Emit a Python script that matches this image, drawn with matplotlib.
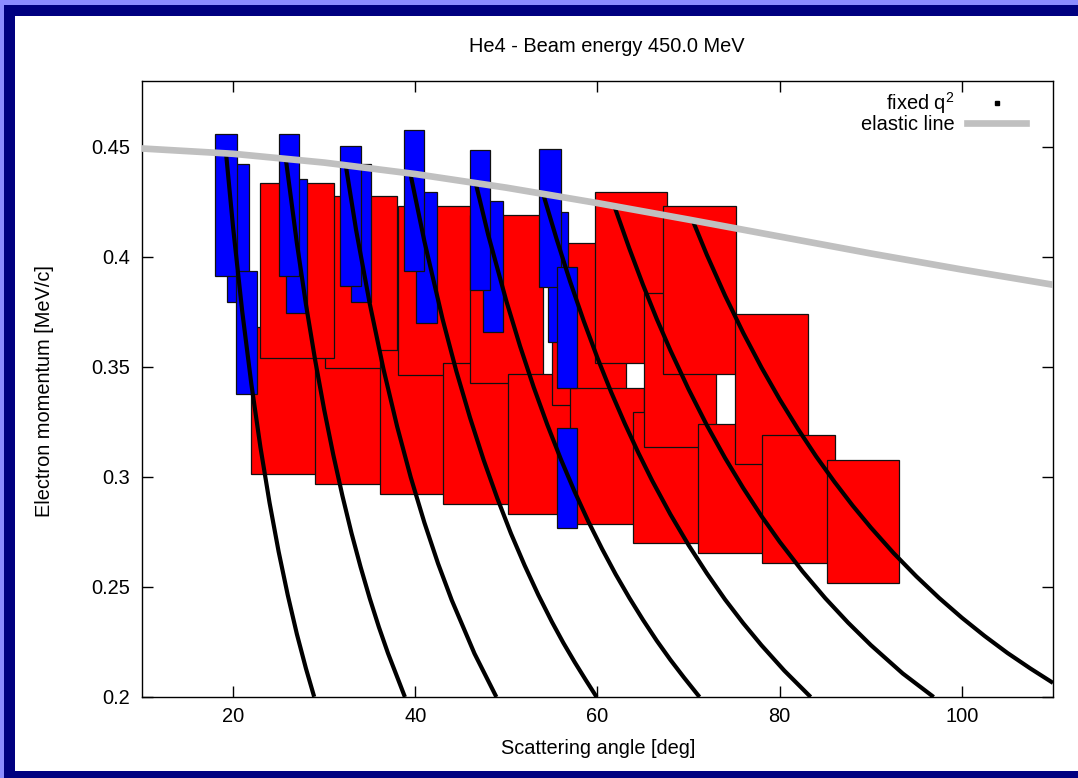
import matplotlib
matplotlib.use("Agg")
import matplotlib.pyplot as plt
from matplotlib.patches import Rectangle
from matplotlib.lines import Line2D

plt.rcParams['font.family'] = ['Liberation Sans', 'DejaVu Sans']
plt.rcParams['mathtext.fontset'] = 'custom'
plt.rcParams['mathtext.rm'] = 'Liberation Sans'
plt.rcParams['mathtext.it'] = 'Liberation Sans:italic'

# Wide-acceptance spectrometer settings (red), in drawing order
red_theta_lo = [21.96, 28.99, 30.09, 22.95, 36.09, 38.10, 43.07, 46.00, 50.14, 54.97,
                59.73, 56.98, 63.93, 65.14, 67.16, 71.07, 75.09, 78.02, 85.16]
red_theta_hi = [29.98, 37.00, 38.00, 31.04, 44.11, 46.11, 51.09, 54.05, 58.16, 63.10,
                67.60, 65.10, 71.94, 73.01, 75.17, 79.08, 83.07, 86.07, 93.06]
red_p_lo = [0.3013, 0.2968, 0.3496, 0.3542, 0.2922, 0.3463, 0.2876, 0.3425, 0.2830, 0.3325,
            0.3516, 0.2786, 0.2698, 0.3137, 0.3466, 0.2656, 0.3059, 0.2607, 0.2517]
red_p_hi = [0.3680, 0.3625, 0.4275, 0.4335, 0.3577, 0.4229, 0.3516, 0.4188, 0.3466, 0.4064,
            0.4296, 0.3405, 0.3294, 0.3834, 0.4229, 0.3240, 0.3739, 0.3189, 0.3077]

# Narrow-acceptance spectrometer settings (blue), in drawing order
blue_theta_lo = [19.30, 18.01, 20.29, 25.84, 25.01, 32.91, 31.77, 40.04, 38.73,
                 47.40, 46.00, 54.53, 53.58, 55.52, 55.52]
blue_theta_hi = [21.71, 20.46, 22.66, 28.14, 27.23, 35.14, 34.04, 42.38, 40.95,
                 49.66, 48.23, 56.73, 55.96, 57.72, 57.72]
blue_p_lo = [0.3796, 0.3914, 0.3377, 0.3745, 0.3914, 0.3796, 0.3869, 0.3699, 0.3936,
             0.3660, 0.3849, 0.3614, 0.3864, 0.3405, 0.2769]
blue_p_hi = [0.4420, 0.4557, 0.3936, 0.4353, 0.4557, 0.4420, 0.4505, 0.4294, 0.4575,
             0.4254, 0.4484, 0.4203, 0.4491, 0.3953, 0.3221]

# Curves of constant momentum transfer
q2_theta = [
    [19.25, 20, 21, 22, 23, 24, 25, 26, 27, 28, 28.9],
    [25.8, 27, 28, 29, 30, 31, 32, 33, 34, 35, 36, 37, 38.86],
    [32.35, 33.5, 35, 36.5, 38, 39.5, 41, 42.5, 44, 46.5, 48.9],
    [39.45, 41, 43, 44.5, 46, 47.5, 49, 50.5, 52, 53.5, 55, 56.25, 57.5, 58.7, 59.9],
    [46.6, 48, 50, 51.5, 53, 54.5, 56, 57.5, 59, 60.5, 62, 63.5, 65, 66.5, 68, 69.5, 71.2],
    [54.0, 55.5, 57, 58.5, 60, 61.5, 63, 64.5, 66, 68, 70, 72, 74, 76, 78, 80.5, 83.4],
    [61.85, 63.5, 65, 66.5, 68, 70, 72, 74, 76, 78, 80, 82.5, 85, 87.5, 90, 93.5, 96.9],
    [70.45, 72, 74, 76, 78, 80, 82, 84, 86, 88, 90, 92.5, 95, 97.5, 100, 102.5, 105, 107.5, 110],
]
q2_p = [
    [0.446, 0.4133, 0.3752, 0.3423, 0.3135, 0.2883, 0.2660, 0.2463, 0.2286, 0.2129, 0.2001],
    [0.444, 0.4062, 0.3783, 0.3532, 0.3305, 0.3100, 0.2914, 0.2744, 0.2590, 0.2448, 0.2318,
     0.2199, 0.2000],
    [0.442, 0.4122, 0.3787, 0.3491, 0.3230, 0.2998, 0.2792, 0.2606, 0.2440, 0.2197, 0.2000],
    [0.438, 0.4070, 0.3716, 0.3481, 0.3270, 0.3077, 0.2903, 0.2743, 0.2598, 0.2464, 0.2341,
     0.2246, 0.2158, 0.2078, 0.2000],
    [0.434, 0.4100, 0.3798, 0.3594, 0.3407, 0.3236, 0.3078, 0.2932, 0.2797, 0.2673, 0.2557,
     0.2450, 0.2350, 0.2256, 0.2169, 0.2088, 0.2000],
    [0.429, 0.4082, 0.3887, 0.3707, 0.3540, 0.3385, 0.3242, 0.3108, 0.2983, 0.2830, 0.2690,
     0.2562, 0.2443, 0.2335, 0.2235, 0.2120, 0.2000],
    [0.423, 0.4037, 0.3872, 0.3718, 0.3575, 0.3398, 0.3235, 0.3086, 0.2949, 0.2822, 0.2705,
     0.2571, 0.2449, 0.2338, 0.2236, 0.2107, 0.2000],
    [0.4165, 0.4009, 0.3824, 0.3654, 0.3497, 0.3352, 0.3218, 0.3093, 0.2978, 0.2870, 0.2770,
     0.2654, 0.2548, 0.2450, 0.2360, 0.2277, 0.2200, 0.2130, 0.2064],
]

# Elastic scattering line
elastic_theta = [10, 20, 30, 40, 50, 60, 70, 80, 90, 100, 110]
elastic_p = [0.4492, 0.4468, 0.4428, 0.4376, 0.4314, 0.4244, 0.4169, 0.4092, 0.4015, 0.3942, 0.3873]

x_ticks = [20, 40, 60, 80, 100]
y_ticks = [0.2, 0.25, 0.3, 0.35, 0.4, 0.45]
y_ticklabels = ['0.2', '0.25', '0.3', '0.35', '0.4', '0.45']

W, H = 1078, 778
FS = 14.4


def fx(px):
    return px / W


def fy(py):
    return 1 - py / H


fig = plt.figure(figsize=(W / 100, H / 100), dpi=100)
fig.patch.set_facecolor('#8c8cff')
fig.add_artist(Rectangle((fx(4), 0), 1, fy(5), transform=fig.transFigure,
                         facecolor='#000080', edgecolor='none', zorder=-10))
fig.add_artist(Rectangle((fx(15), fy(771)), 1, fy(16) - fy(771), transform=fig.transFigure,
                         facecolor='white', edgecolor='none', zorder=-9))

ax = fig.add_axes([fx(142), fy(697), fx(1053) - fx(142), fy(80.7) - fy(697)])
ax.set_xlim(10, 110)
ax.set_ylim(0.2, 0.48)

for t0, t1, p0, p1 in zip(red_theta_lo, red_theta_hi, red_p_lo, red_p_hi):
    ax.add_patch(Rectangle((t0, p0), t1 - t0, p1 - p0, facecolor='#ff0000',
                           edgecolor='#111111', linewidth=0.9, zorder=2))
for t0, t1, p0, p1 in zip(blue_theta_lo, blue_theta_hi, blue_p_lo, blue_p_hi):
    ax.add_patch(Rectangle((t0, p0), t1 - t0, p1 - p0, facecolor='#0000ff',
                           edgecolor='#111111', linewidth=0.9, zorder=3))

for th, pp in zip(q2_theta, q2_p):
    ax.plot(th, pp, color='black', linewidth=3.0, solid_capstyle='butt',
            solid_joinstyle='round', zorder=4)

ax.plot(elastic_theta, elastic_p, color='#c0c0c0', linewidth=4.8, zorder=5)

ax.set_xticks(x_ticks)
ax.set_yticks(y_ticks)
ax.set_yticklabels(y_ticklabels)
ax.tick_params(direction='in', top=True, right=True, length=8.2, width=1.0,
               labelsize=FS, colors='black')
ax.tick_params(axis='x', pad=7)
ax.tick_params(axis='y', pad=8.5)
for s in ax.spines.values():
    s.set_linewidth(1.0)

handles = [
    Line2D([], [], color='black', marker='s', markersize=2.6, linestyle='none'),
    Line2D([], [], color='#c0c0c0', linewidth=4.8),
]
ax.legend(handles, ['fixed q$^{2}$', 'elastic line'], loc='upper right',
          bbox_to_anchor=(0.9705, 0.984), frameon=False,
          markerfirst=False, fontsize=FS, handlelength=2.95, handletextpad=0.65,
          borderpad=0.0, borderaxespad=0.0, labelspacing=-0.08)

fig.text(fx(607), fy(47), 'He4 - Beam energy 450.0 MeV', ha='center', va='center', fontsize=FS)
fig.text(fx(598), fy(748), 'Scattering angle [deg]', ha='center', va='center', fontsize=FS)
fig.text(fx(45), fy(391), 'Electron momentum [MeV/c]', ha='center', va='center',
         rotation=90, fontsize=FS)

fig.savefig('out.png', dpi=100)
